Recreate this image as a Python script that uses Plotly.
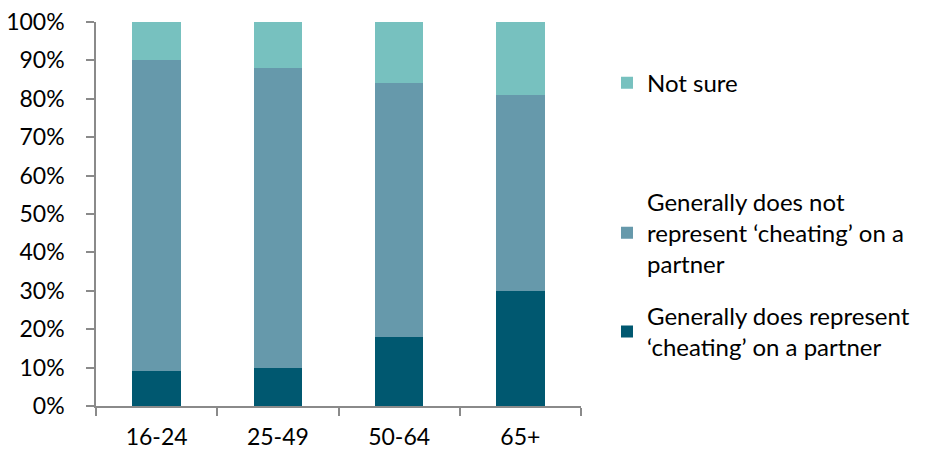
import plotly.graph_objects as go

categories = ["16-24", "25-49", "50-64", "65+"]
does_represent = [9, 10, 18, 30]
does_not_represent = [81, 78, 66, 51]
not_sure = [10, 12, 16, 19]

names = [
    "Generally does represent<br>‘cheating’ on a partner",
    "Generally does not<br>represent ‘cheating’ on a<br>partner",
    "Not sure",
]
colors = ["#005870", "#6699AB", "#77C1BF"]

FONT = "Lato, 'Noto Sans', sans-serif"

fig = go.Figure()
series = [does_represent, does_not_represent, not_sure]
legends = ["legend3", "legend2", "legend"]
for vals, name, col, lg in zip(series, names, colors, legends):
    fig.add_trace(go.Bar(
        x=categories, y=vals, name=name,
        marker=dict(color=col, line=dict(width=0)),
        legend=lg, showlegend=True,
    ))

leg_common = dict(
    x=1.0536, xanchor="left", yanchor="middle",
    font=dict(family=FONT, size=24, color="#000000"),
    bgcolor="rgba(0,0,0,0)", borderwidth=0, visible=True,
)

fig.update_layout(
    template="none",
    showlegend=True,
    barmode="stack",
    bargap=0.6,
    width=927, height=452,
    margin=dict(l=96, r=346, t=22, b=46),
    plot_bgcolor="white", paper_bgcolor="white",
    font=dict(family=FONT, size=23, color="#000000"),
    legend=dict(y=0.841, **leg_common),
    legend2=dict(y=0.4505, **leg_common),
    legend3=dict(y=0.1935, **leg_common),
    xaxis=dict(
        automargin=False,
        showline=True, linecolor="#8a8a8a", linewidth=1.5,
        ticks="outside", tickson="boundaries", ticklen=8, tickcolor="#8a8a8a", tickwidth=1.5,
        showgrid=False, ticklabelstandoff=10,
        tickfont=dict(family=FONT, size=23, color="#000000"),
    ),
    yaxis=dict(
        automargin=False,
        range=[0, 100], dtick=10, ticksuffix="%",
        showline=True, linecolor="#8a8a8a", linewidth=1.5,
        ticks="outside", ticklen=8, tickcolor="#8a8a8a", tickwidth=1.5,
        showgrid=False, zeroline=False, ticklabelstandoff=17,
        tickfont=dict(family=FONT, size=23, color="#000000"),
    ),
)

fig.write_html("out.html")
